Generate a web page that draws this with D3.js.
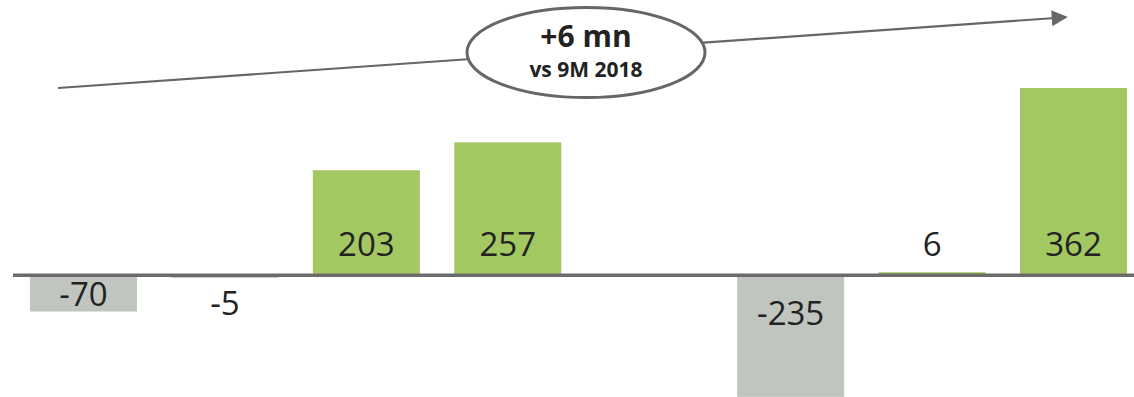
<!DOCTYPE html>
<html>
<head>
<meta charset="utf-8">
<script src="https://cdn.jsdelivr.net/npm/d3@7"></script>
<style>
  body { margin: 0; background: #fff; }
  svg { display: block; }
</style>
</head>
<body>
<div id="wrapper"></div>
<script>
// chart values
const categories = ["c1", "c2", "c3", "c4", "c5", "c6", "c7", "c8"];
const values = [-70, -5, 203, 257, null, -235, 6, 362];
const bubbleTitle = "+6 mn";
const bubbleSub = "vs 9M 2018";

function buildChart() {
    const dimension = { width: 1134, height: 397 };

    const svg = d3.select("#wrapper").append("svg")
        .attr("width", dimension.width)
        .attr("height", dimension.height);

    const xScaler = d3.scaleBand()
        .domain(categories)
        .range([13, 1144])
        .paddingInner(0.243)
        .paddingOuter(0.12);

    const yScaler = d3.scaleLinear()
        .domain([0, 362])
        .range([275.3, 88]);

    const y0 = yScaler(0);
    const data = categories.map((c, i) => ({ cat: c, value: values[i] }))
        .filter(d => d.value !== null);

    // bars
    svg.append("g").selectAll("rect")
        .data(data)
        .join("rect")
        .attr("x", d => xScaler(d.cat))
        .attr("width", xScaler.bandwidth())
        .attr("y", d => Math.min(yScaler(d.value), y0))
        .attr("height", d => Math.abs(yScaler(d.value) - y0))
        .attr("fill", d => d.value >= 0 ? "#a3c862" : "#c1c5bf");

    // zero line
    svg.append("line")
        .attr("x1", 13).attr("x2", dimension.width)
        .attr("y1", y0).attr("y2", y0)
        .attr("stroke", "#6b6b6b")
        .attr("stroke-width", 3.5);

    // value labels
    svg.append("g").selectAll("text")
        .data(data)
        .join("text")
        .attr("x", d => xScaler(d.cat) + xScaler.bandwidth() / 2)
        .attr("y", d => {
            if (d.value >= 0) return y0 - 32;
            const end = yScaler(d.value);
            if (end - y0 < 10) return end + 25;
            return Math.min((end + y0) / 2, y0 + 37);
        })
        .attr("text-anchor", "middle")
        .attr("dominant-baseline", "central")
        .attr("font-family", "'Open Sans', sans-serif")
        .attr("font-size", 33)
        .attr("fill", "#222")
        .text(d => d.value);

    // trend arrow
    svg.append("defs").append("marker")
        .attr("id", "arrowhead")
        .attr("viewBox", "0 0 10 10")
        .attr("refX", 2).attr("refY", 5)
        .attr("markerUnits", "userSpaceOnUse")
        .attr("markerWidth", 17).attr("markerHeight", 16)
        .attr("orient", "auto")
        .append("path")
        .attr("d", "M0,0 L10,5 L0,10 Z")
        .attr("fill", "#666");

    svg.append("line")
        .attr("x1", 58).attr("y1", 88)
        .attr("x2", 1055).attr("y2", 18)
        .attr("stroke", "#666")
        .attr("stroke-width", 2.2)
        .attr("marker-end", "url(#arrowhead)");

    // bubble
    svg.append("ellipse")
        .attr("cx", 586).attr("cy", 52.5)
        .attr("rx", 119).attr("ry", 45)
        .attr("fill", "#fff")
        .attr("stroke", "#666")
        .attr("stroke-width", 3);

    svg.append("text")
        .attr("x", 586).attr("y", 47)
        .attr("text-anchor", "middle")
        .attr("font-family", "'Open Sans', sans-serif")
        .attr("font-weight", "bold")
        .attr("font-size", 30)
        .attr("fill", "#222")
        .text(bubbleTitle);

    svg.append("text")
        .attr("x", 586).attr("y", 77)
        .attr("text-anchor", "middle")
        .attr("font-family", "'Open Sans', sans-serif")
        .attr("font-weight", "bold")
        .attr("font-size", 21)
        .attr("fill", "#222")
        .text(bubbleSub);
}

buildChart();
</script>
</body>
</html>
